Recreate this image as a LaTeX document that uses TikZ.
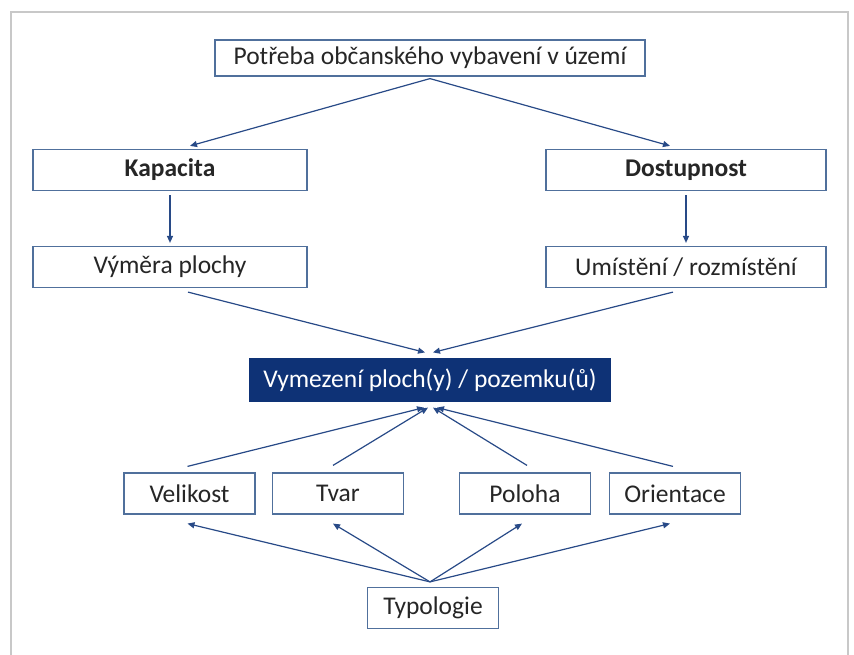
\documentclass[tikz,border=0pt]{standalone}
\usepackage{fontspec}
\setmainfont{Carlito}
\usetikzlibrary{arrows.meta}
\definecolor{okraj}{RGB}{80,112,156}
\definecolor{sipky}{RGB}{40,74,135}
\definecolor{tmava}{RGB}{14,50,118}
\definecolor{ram}{RGB}{200,200,200}

\begin{document}
\begin{tikzpicture}[x=1pt,y=-1pt]
\tikzstyle{box} = [draw=okraj, line width=1.2pt, fill=white, inner sep=0pt, text=black!85, font=\fontsize{25.5}{30}\selectfont]
\tikzstyle{malybox} = [box, minimum width=131pt, minimum height=41pt]
\tikzstyle{sipka} = [draw=sipky, line width=1.2pt, -{Triangle[length=7pt,width=6pt]}]
\useasboundingbox (0,0) rectangle (854,655);
\draw[ram, line width=1.5pt] (11,662) -- (11,12) -- (848,12) -- (848,662);
\node[box, minimum width=430pt, minimum height=36pt] (potreba) at (430,58) {Potřeba občanského vybavení v území};
\node[box, minimum width=274pt, minimum height=41pt] (kapacita) at (170,170) {\bfseries Kapacita};
\node[box, minimum width=280pt, minimum height=41pt] (dostupnost) at (686,170) {\bfseries Dostupnost};
\node[box, minimum width=274pt, minimum height=41pt] (vymera) at (170,267) {Výměra plochy};
\node[box, minimum width=280pt, minimum height=41pt] (umisteni) at (686,267) {Umístění / rozmístění};
\node[box, draw=tmava, fill=tmava, text=white, minimum width=360pt, minimum height=42pt] (vymezeni) at (430,380) {Vymezení ploch(y) / pozemku(ů)};
\node[malybox] (velikost) at (189.5,493.5) {Velikost};
\node[malybox] (tvar) at (338,493.5) {Tvar};
\node[malybox] (poloha) at (525,493.5) {Poloha};
\node[malybox] (orientace) at (675,493.5) {Orientace};
\node[malybox] (typologie) at (433,608) {Typologie};
% horni cast
\draw[sipka] ([yshift=-2pt]potreba.south) -- ([xshift=20pt,yshift=3pt]kapacita.north);
\draw[sipka] ([yshift=-2pt]potreba.south) -- ([xshift=-16pt,yshift=3pt]dostupnost.north);
\draw[sipka] ([yshift=-4pt]kapacita.south) -- ([yshift=3pt]vymera.north);
\draw[sipka] ([yshift=-4pt]dostupnost.south) -- ([yshift=3pt]umisteni.north);
\draw[sipka] ([xshift=18pt,yshift=-4pt]vymera.south) -- ([xshift=-5pt,yshift=6pt]vymezeni.north);
\draw[sipka] ([xshift=-13pt,yshift=-4pt]umisteni.south) -- ([xshift=3pt,yshift=6pt]vymezeni.north);
% dolni cast
\draw[sipka] ([xshift=-2pt,yshift=6pt]velikost.north) -- ([xshift=-6pt,yshift=-6pt]vymezeni.south);
\draw[sipka] ([xshift=-5pt,yshift=7pt]tvar.north) -- ([xshift=-2pt,yshift=-6pt]vymezeni.south);
\draw[sipka] ([xshift=2pt,yshift=7pt]poloha.north) -- ([xshift=3pt,yshift=-6pt]vymezeni.south);
\draw[sipka] ([xshift=-2pt,yshift=6pt]orientace.north) -- ([xshift=7pt,yshift=-6pt]vymezeni.south);
\draw[sipka] ([xshift=-3pt,yshift=5pt]typologie.north) -- ([xshift=-2pt,yshift=-9pt]velikost.south);
\draw[sipka] ([xshift=-3pt,yshift=5pt]typologie.north) -- ([xshift=-5pt,yshift=-9pt]tvar.south);
\draw[sipka] ([xshift=-3pt,yshift=5pt]typologie.north) -- ([xshift=-3pt,yshift=-9pt]poloha.south);
\draw[sipka] ([xshift=-3pt,yshift=5pt]typologie.north) -- ([xshift=-5pt,yshift=-9pt]orientace.south);
\end{tikzpicture}
\end{document}
